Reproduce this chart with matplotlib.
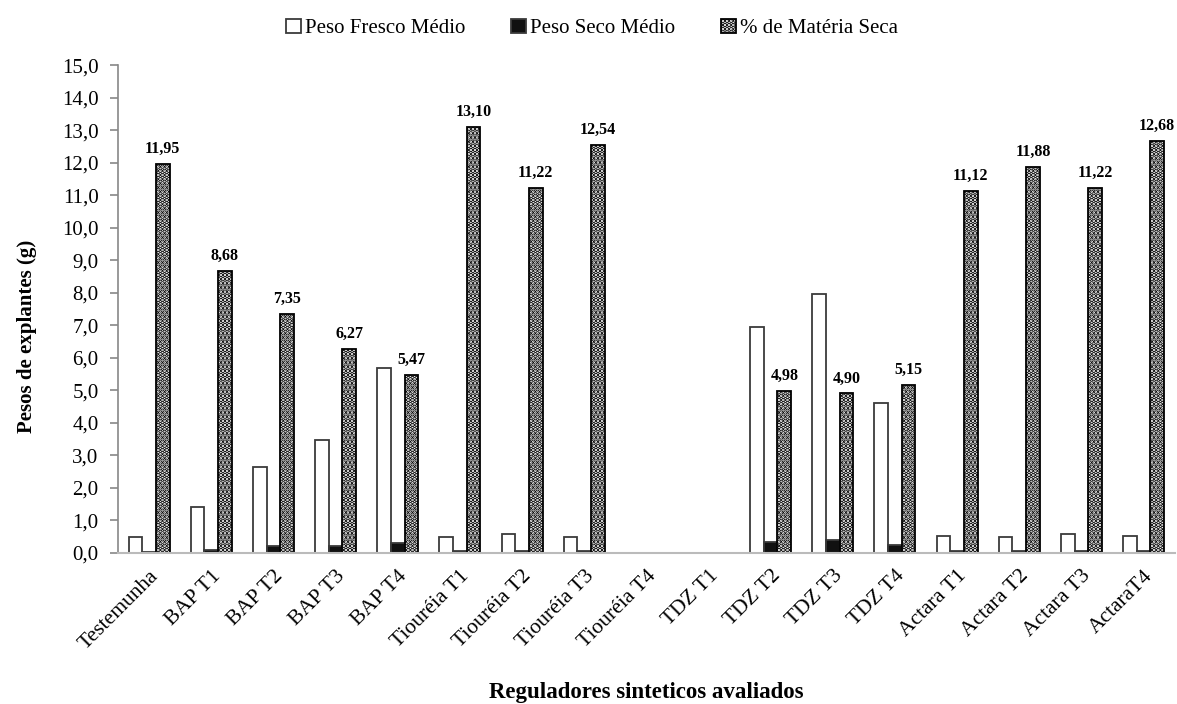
import numpy as np
import matplotlib
matplotlib.use("Agg")
import matplotlib.pyplot as plt

# ================== dados ==================
categorias = ["Testemunha", "BAP T1", "BAP T2", "BAP T3", "BAP T4",
              "Tiouréia T1", "Tiouréia T2", "Tiouréia T3", "Tiouréia T4",
              "TDZ T1", "TDZ T2", "TDZ T3", "TDZ T4",
              "Actara T1", "Actara T2", "Actara T3", "ActaraT4"]

peso_fresco = [0.47, 1.41, 2.63, 3.47, 5.67, 0.47, 0.57, 0.47, np.nan,
               np.nan, 6.94, 7.97, 4.59, 0.52, 0.48, 0.58, 0.52]
peso_seco = [0.03, 0.09, 0.19, 0.19, 0.31, 0.05, 0.05, 0.05, np.nan,
             np.nan, 0.34, 0.40, 0.24, 0.05, 0.05, 0.05, 0.05]
materia_seca = [11.95, 8.68, 7.35, 6.27, 5.47, 13.10, 11.22, 12.54, np.nan,
                np.nan, 4.98, 4.90, 5.15, 11.12, 11.88, 11.22, 12.68]

yticks = np.arange(0, 15.5, 1.0)

# ================== figura ==================
plt.rcParams['font.family'] = ['Liberation Serif', 'DejaVu Serif']
plt.rcParams['hatch.linewidth'] = 2.4

fig = plt.figure(figsize=(11.77, 7.04), dpi=100)
ax = fig.add_axes([0.1003, 0.215, 0.8977, 0.6925])

x = np.arange(len(categorias))
w = 0.22
edge = '#3a3a3a'

ax.bar(x - w, peso_fresco, w, color='white', edgecolor=edge, linewidth=1.3,
       label='Peso Fresco Médio')
ax.bar(x, peso_seco, w, color='#111111', edgecolor=edge, linewidth=1.3,
       label='Peso Seco Médio')
ax.bar(x + w, materia_seca, w, color='white', edgecolor='black',
       hatch='....', linewidth=1.3, label='% de Matéria Seca')

# rótulos dos valores de matéria seca
for xi, v in zip(x, materia_seca):
    if not np.isnan(v):
        ax.annotate(f"{v:.2f}".replace('.', ','), (xi + w, v),
                    xytext=(0, 5), textcoords='offset points',
                    ha='center', va='bottom', fontsize=11.5, fontweight='bold')

ax.set_xlim(-0.5, len(categorias) - 0.5)
ax.set_ylim(0, 15)
ax.set_yticks(yticks)
ax.set_yticklabels([f"{t:.1f}".replace('.', ',') for t in yticks], fontsize=15)
ax.set_xticks(x)
ax.set_xticklabels(categorias, rotation=45, ha='right', rotation_mode='anchor',
                   fontsize=15.5)
ax.tick_params(axis='x', length=0, pad=10)
ax.tick_params(axis='y', length=6, color='#888888', width=1.2, pad=8)

for s in ['top', 'right']:
    ax.spines[s].set_visible(False)
ax.spines['left'].set_color('#888888')
ax.spines['bottom'].set_color('#bbbbbb')
ax.spines['left'].set_linewidth(1.2)
ax.spines['bottom'].set_linewidth(1.5)

ax.set_xlabel("Reguladores sinteticos avaliados", fontsize=16.5, fontweight='bold')
ax.xaxis.set_label_coords(0.5, -0.265)
ax.set_ylabel("Pesos de explantes (g)", fontsize=15, fontweight='bold')
ax.yaxis.set_label_coords(-0.077, 0.444)

fig.legend(loc='upper center', bbox_to_anchor=(0.503, 1.0), ncol=3, frameon=False,
           fontsize=15, handlelength=0.7, handleheight=0.7, handletextpad=0.2,
           columnspacing=2.2)

fig.savefig("out.png", dpi=100)
